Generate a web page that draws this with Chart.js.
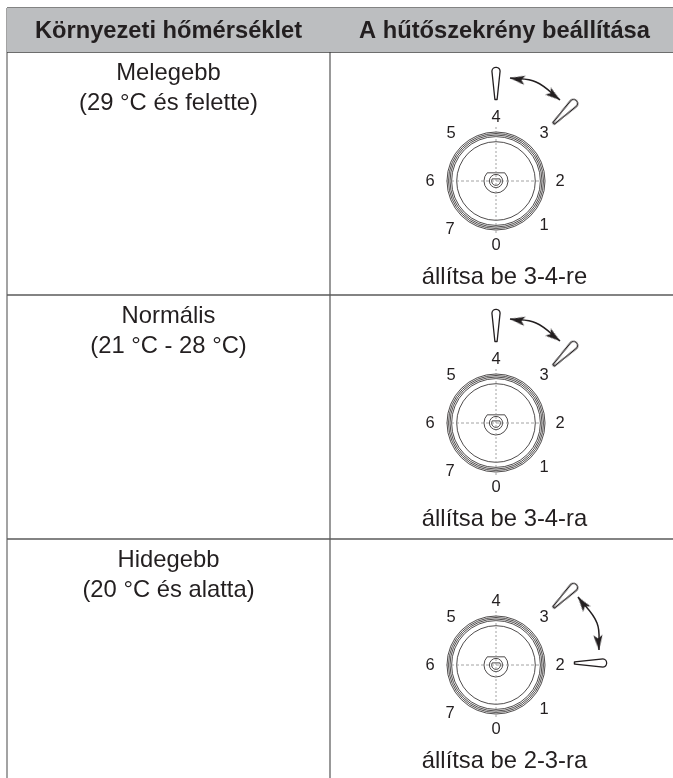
<!DOCTYPE html>
<html>
<head>
<meta charset="utf-8">
<title>A hűtőszekrény beállítása</title>
<script src="https://cdn.jsdelivr.net/npm/chart.js@4"></script>
<style>
    html, body { margin: 0; padding: 0; background: #fff; }
    canvas { display: block; }
</style>
</head>
<body>
<canvas id="dialChart" width="673" height="778"></canvas>
<script>
// Table content
const headers = ['Környezeti hőmérséklet', 'A hűtőszekrény beállítása'];
const rowNames = ['Melegebb', 'Normális', 'Hidegebb'];
const rowRanges = ['(29 °C és felette)', '(21 °C - 28 °C)', '(20 °C és alatta)'];
const rowCaptions = ['állítsa be 3-4-re', 'állítsa be 3-4-ra', 'állítsa be 2-3-ra'];

// Dial content
const dialNumbers = [0, 1, 2, 3, 4, 5, 6, 7];
const dialNumberDx = [0, 48, 64, 48, 0, -45, -66, -46];
const dialNumberDy = [64, 44, 0, -48, -64, -48, 0, 48];
const rowSettings = [[4, 3], [4, 3], [3, 2]];

// Table geometry, in page pixels
const rowLines = [8, 52, 295, 539];
const columnLines = [7, 330];
const dialX = 496;
const dialY = [181, 423, 665];
const dialRings = [49, 47.5, 46, 44.4, 39.3];

// Double arrow between the two settings, offset from the dial centre
const arrowDx = [[14, 40, 64], [14, 40, 64], [82, 101, 103]];
const arrowDy = [[-103, -99, -81], [-104, -100, -82], [-68, -42, -15]];

const ink = '#231f20';

function sprite(w, h, draw) {
    const c = document.createElement('canvas');
    c.width = w;
    c.height = h;
    draw(c.getContext('2d'), w, h);
    return c;
}

// Teardrop knob marker, head up
const knob = sprite(16, 40, (g, w, h) => {
    g.strokeStyle = ink;
    g.lineWidth = 1.3;
    g.lineJoin = 'round';
    g.beginPath();
    g.arc(w / 2, 7.5, 4.1, Math.PI * 1.03, Math.PI * 1.97);
    g.lineTo(w / 2 + 1.1, 35.5);
    g.lineTo(w / 2 - 1.1, 35.5);
    g.closePath();
    g.stroke();
});

// Arrow head pointing up, tip on the sprite centre
const head = sprite(16, 36, (g, w, h) => {
    const tip = h / 2;
    g.fillStyle = ink;
    g.beginPath();
    g.moveTo(w / 2, tip);
    g.lineTo(w / 2 + 4.6, tip + 15);
    g.lineTo(w / 2, tip + 11.5);
    g.lineTo(w / 2 - 4.6, tip + 15);
    g.closePath();
    g.fill();
});

// Hub in the middle of the dial
const hub = sprite(30, 30, (g) => {
    g.strokeStyle = ink;
    g.lineWidth = 0.8;
    g.beginPath();
    g.arc(15, 15, 12, -0.75, Math.PI + 0.75);
    g.closePath();
    g.stroke();
    g.beginPath();
    g.arc(15, 15, 6.6, 0, Math.PI * 2);
    g.stroke();
    g.beginPath();
    g.arc(15, 15, 4.4, -0.5, Math.PI + 0.5);
    g.closePath();
    g.stroke();
});

function lineSet(points, color, width, extra) {
    return Object.assign({
        data: points,
        showLine: true,
        borderColor: color,
        borderWidth: width,
        pointRadius: 0,
        fill: false
    }, extra || {});
}

function markerSet(points, style, rotation) {
    return {
        data: points,
        showLine: false,
        pointStyle: style,
        pointRotation: rotation,
        pointRadius: 10
    };
}

const datasets = [];

// Header band
datasets.push(lineSet(
    [{ x: columnLines[0], y: rowLines[0] }, { x: 673, y: rowLines[0] }],
    'rgba(0,0,0,0)', 0,
    { fill: { value: rowLines[1] }, backgroundColor: '#bcbec0' }
));

// Dotted cross hairs
dialY.forEach(y => {
    datasets.push(lineSet([{ x: dialX - 50, y: y }, { x: dialX + 50, y: y }], '#8a8a8a', 0.8, { borderDash: [3, 2] }));
    datasets.push(lineSet([{ x: dialX, y: y - 54 }, { x: dialX, y: y + 54 }], '#8a8a8a', 0.8, { borderDash: [2, 2] }));
});

// Rings
dialRings.forEach(r => {
    datasets.push({
        data: dialY.map(y => ({ x: dialX, y: y })),
        showLine: false,
        pointStyle: 'circle',
        pointRadius: r,
        pointBorderWidth: 0.8,
        pointBorderColor: ink,
        pointBackgroundColor: 'rgba(0,0,0,0)'
    });
});
datasets.push(markerSet(dialY.map(y => ({ x: dialX, y: y })), hub, 0));

// Knobs and arrows
rowSettings.forEach((settings, row) => {
    settings.forEach(setting => {
        const angle = (4 - setting) * 45;
        const rad = angle * Math.PI / 180;
        const reach = setting === 2 ? 94 : 97;
        datasets.push(markerSet(
            [{ x: dialX + reach * Math.sin(rad), y: dialY[row] - reach * Math.cos(rad) - (setting === 2 ? 2 : 0) }],
            knob, angle
        ));
    });
    const path = arrowDx[row].map((dx, i) => ({ x: dialX + dx, y: dialY[row] + arrowDy[row][i] }));
    datasets.push(lineSet(path, ink, 1.5, { tension: 0.4 }));
    const last = path.length - 1;
    const startAngle = Math.atan2(path[0].y - path[1].y, path[0].x - path[1].x) * 180 / Math.PI + 90;
    const endAngle = Math.atan2(path[last].y - path[last - 1].y, path[last].x - path[last - 1].x) * 180 / Math.PI + 90;
    datasets.push(markerSet([path[0]], head, startAngle));
    datasets.push(markerSet([path[last]], head, endAngle));
});

// Table rules
rowLines.forEach((y, i) => {
    datasets.push(lineSet([{ x: columnLines[0], y: y }, { x: 673, y: y }], i === 1 ? '#3c3c3c' : '#5a5a5a', 1.6));
});
datasets.push(lineSet([{ x: columnLines[0], y: rowLines[0] }, { x: columnLines[0], y: 778 }], '#9a9a9a', 1.8));
datasets.push(lineSet([{ x: columnLines[1], y: rowLines[0] }, { x: columnLines[1], y: 778 }], '#6e6e6e', 1.4));

// All table text goes through the scales as well
const tableText = {
    id: 'tableText',
    afterDatasetsDraw(chart) {
        const { ctx, scales } = chart;
        const put = (text, x, y, font) => {
            ctx.font = font;
            ctx.fillText(text, scales.x.getPixelForValue(x), scales.y.getPixelForValue(y));
        };
        ctx.save();
        ctx.fillStyle = ink;
        ctx.textAlign = 'center';
        ctx.textBaseline = 'middle';
        const sans = '"Liberation Sans", Arial, sans-serif';
        put(headers[0], 168.5, 31.5, `bold 23.7px ${sans}`);
        put(headers[1], 504.5, 31.5, `bold 23.7px ${sans}`);
        rowNames.forEach((name, i) => {
            const top = rowLines[i + 1];
            put(name, 168.5, top + 21.5, `23.8px ${sans}`);
            put(rowRanges[i], 168.5, top + 51.5, `23.8px ${sans}`);
        });
        rowCaptions.forEach((caption, i) => {
            put(caption, 504.5, dialY[i] + 96, `23.8px ${sans}`);
        });
        dialY.forEach(y => {
            dialNumbers.forEach((n, i) => {
                put(String(n), dialX + dialNumberDx[i], y + dialNumberDy[i], `16.5px ${sans}`);
            });
        });
        ctx.restore();
    }
};

new Chart(document.getElementById('dialChart'), {
    type: 'scatter',
    data: { datasets: datasets },
    plugins: [tableText],
    options: {
        responsive: false,
        animation: false,
        layout: { padding: 0, autoPadding: false },
        plugins: {
            legend: { display: false },
            tooltip: { enabled: false }
        },
        scales: {
            x: { type: 'linear', min: 0, max: 673, display: false },
            y: { type: 'linear', min: 0, max: 778, reverse: true, display: false }
        }
    }
});
</script>
</body>
</html>
